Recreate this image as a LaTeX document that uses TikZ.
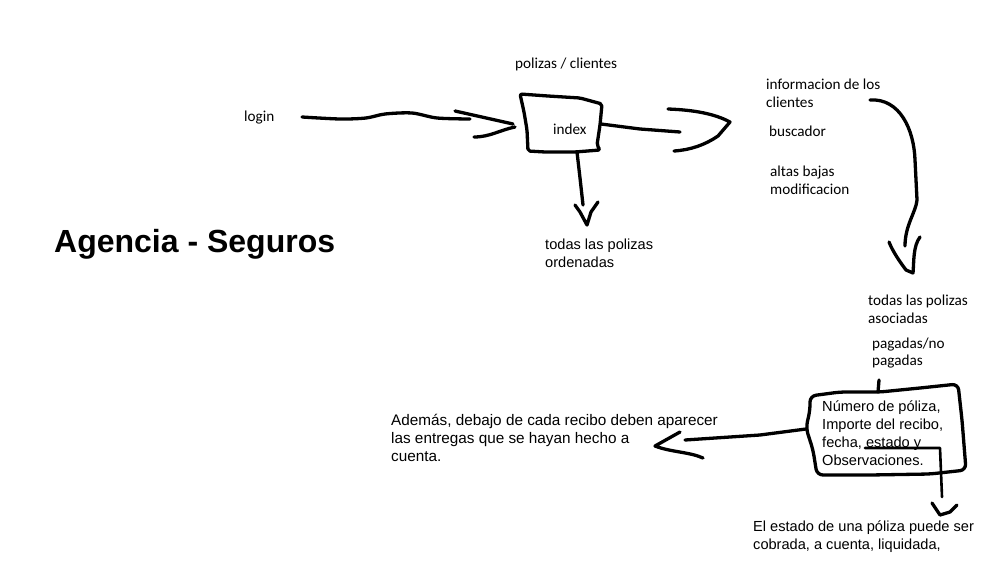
\documentclass[tikz,border=0pt]{standalone}
\usepackage{fontspec}
\setmainfont{Liberation Sans}
\newfontfamily\calib{Carlito}
\begin{document}
\begin{tikzpicture}[x=1pt,y=-1pt,
  ink/.style={line width=3.3pt,line cap=round,line join=round},
  cal/.style={font=\calib\fontsize{15.2}{17.8}\selectfont,anchor=west,align=left,inner sep=0pt},
  ari/.style={font=\fontsize{14.6}{17.8}\selectfont,anchor=west,align=left,inner sep=0pt}]
\useasboundingbox[fill=white] (0,0) rectangle (992,562);
% texts
\node[font=\bfseries\fontsize{32}{36}\selectfont,anchor=west,inner sep=0pt] (title) at (54,244) {Agencia - Seguros};
\node[cal] (login) at (244,118) {login};
\node[cal] (pc) at (515,64) {polizas / clientes};
\node[cal] (index) at (553,129) {index};
\node[ari] (ord) at (545,253) {todas las polizas\\ordenadas};
\node[cal] (info) at (766,93) {informacion de los\\clientes};
\node[cal] (busc) at (769,131) {buscador};
\node[cal] (abm) at (770,180) {altas bajas\\modificacion};
\node[cal] (asoc) at (868,309) {todas las polizas\\asociadas};
\node[cal] (pag) at (872,353) {pagadas/no\\pagadas};
\node[ari] (rec) at (822,433) {N\'umero de p\'oliza,\\Importe del recibo,\\fecha, estado y\\Observaciones.};
\node[ari,font=\fontsize{15.3}{17.8}\selectfont] (adem) at (391,438) {Adem\'as, debajo de cada recibo deben aparecer\\las entregas que se hayan hecho a\\cuenta.};
\node[ari] (est) at (753,537) {El estado de una p\'oliza puede ser\\cobrada, a cuenta, liquidada,};
% index box
\draw[ink,rounded corners=2pt] (520,94) -- (548,96) -- (580,98) -- (602,104) -- (600,125) -- (597,145) -- (600,150)
  -- (575,152) -- (545,152) -- (528,151) -- (527,130) -- (524,112) -- cycle;
% login arrow
\draw[ink] plot[smooth] coordinates {(302,117) (340,119) (366,118) (385,114) (412,113) (437,118) (470,119)};
\draw[ink] (455,111) -- (513,124);
\draw[ink] (474,137) .. controls (490,137) and (500,130) .. (515,127);
% index -> right
\draw[ink] (601,124) -- (640,129) -- (680,132);
\draw[ink] (668,109) .. controls (695,110) and (715,114) .. (730,122) -- (718,136) .. controls (705,145) and (690,150) .. (674,151);
% index -> down
\draw[ink] (577,152) -- (580,178) -- (583,205);
\draw[ink] (575,205) -- (580,212) -- (587,225) -- (591,212) -- (598,202);
% curve from informacion
\draw[ink] (870,100) .. controls (900,98) and (914,130) .. (915,160) -- (917,200) .. controls (916,212) and (905,225) .. (905,246);
\draw[ink] (889,242) .. controls (893,252) and (900,262) .. (906,270) -- (913,273) .. controls (914,262) and (913,246) .. (920,237);
% recibo box
\draw[ink,rounded corners=6pt] (810,396) -- (840,392) -- (880,392) -- (920,388) -- (958,384) -- (962,420) -- (966,470)
  -- (930,474) -- (870,475) -- (817,475) -- (813,450) -- (806,428) -- (810,410) -- cycle;
\draw[ink] (879,380) -- (878,392);
% underline + arrow down
\draw[line width=2.6pt,line cap=round,line join=round] (865,448) -- (940,448) -- (942,497);
\draw[ink] (932,503) -- (940,515) -- (950,512) -- (957,505);
% left arrow
\draw[ink] (806,429) -- (760,435) -- (685,440);
\draw[ink] (680,432) -- (655,446) .. controls (670,452) and (690,452) .. (703,458);
\end{tikzpicture}
\end{document}
